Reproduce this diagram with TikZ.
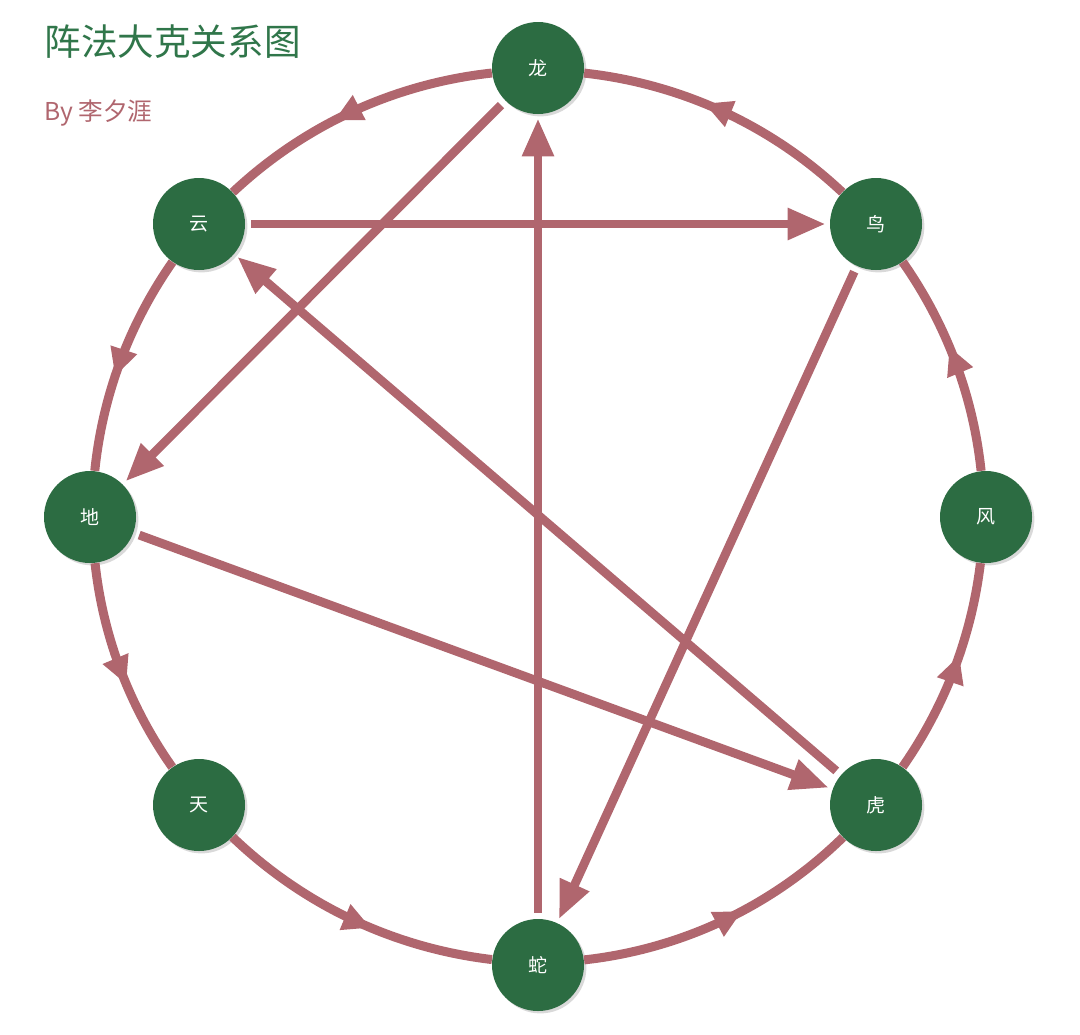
\documentclass[tikz,border=0pt]{standalone}
\usepackage{fontspec}
\setmainfont{Noto Sans CJK SC}
\usepackage{xcolor}
\usetikzlibrary{arrows.meta,decorations.markings,shadows}
\definecolor{zhengreen}{RGB}{44,108,66}
\definecolor{titlegreen}{RGB}{48,118,74}
\definecolor{kemauve}{RGB}{176,102,110}

\begin{document}
\begin{tikzpicture}[x=0.5pt,y=-0.5pt,
zhen/.style={circle,fill=zhengreen,minimum size=46pt,inner sep=0pt,text=white,
  font=\fontsize{9.5}{11}\selectfont,
  drop shadow={opacity=0.3,shadow xshift=1.2pt,shadow yshift=-1.2pt}},
ring/.style={draw=kemauve,line width=4.5pt,postaction={decorate},
  decoration={markings,mark=at position 0.57 with {\arrow{Triangle[length=14pt,width=13pt]}}}},
ke/.style={draw=kemauve,line width=4.4pt,-{Triangle[length=19pt,width=15pt]},
  shorten <=3pt,shorten >=2pt}
]
\useasboundingbox (0,0) rectangle (1080,1034);
\node[anchor=west,inner sep=0pt,text=titlegreen,font=\fontsize{18.3}{20}\selectfont] (title) at (44,42) {阵法大克关系图};
\node[anchor=west,inner sep=0pt,text=kemauve,font=\fontsize{12.3}{14}\selectfont] (byline) at (44,113) {By 李夕涯};

\node[zhen] (long) at (538,68) {龙};
\node[zhen] (niao) at (876,224) {鸟};
\node[zhen] (feng) at (986,517) {风};
\node[zhen] (hu) at (876,805) {虎};
\node[zhen] (she) at (538,965) {蛇};
\node[zhen] (tian) at (199,805) {天};
\node[zhen] (di) at (90,517) {地};
\node[zhen] (yun) at (199,224) {云};

% outer cycle
\draw[ring] (she) to[bend right=19,looseness=0.88] (hu);
\draw[ring] (hu) to[bend right=14,looseness=0.87] (feng);
\draw[ring] (feng) to[bend right=14.5,looseness=0.87] (niao);
\draw[ring] (niao) to[bend right=18.5,looseness=0.88] (long);
\draw[ring] (long) to[bend right=18.5,looseness=0.88] (yun);
\draw[ring] (yun) to[bend right=14.5,looseness=0.87] (di);
\draw[ring] (di) to[bend right=14.5,looseness=0.87] (tian);
\draw[ring] (tian) to[bend right=18.5,looseness=0.88] (she);

% chords
\draw[ke] (long) -- (di);
\draw[ke] (yun) -- (niao);
\draw[ke] (she) -- (long);
\draw[ke] (niao) -- (she);
\draw[ke] (hu) -- (yun);
\draw[ke] (di) -- (hu);
\end{tikzpicture}
\end{document}
